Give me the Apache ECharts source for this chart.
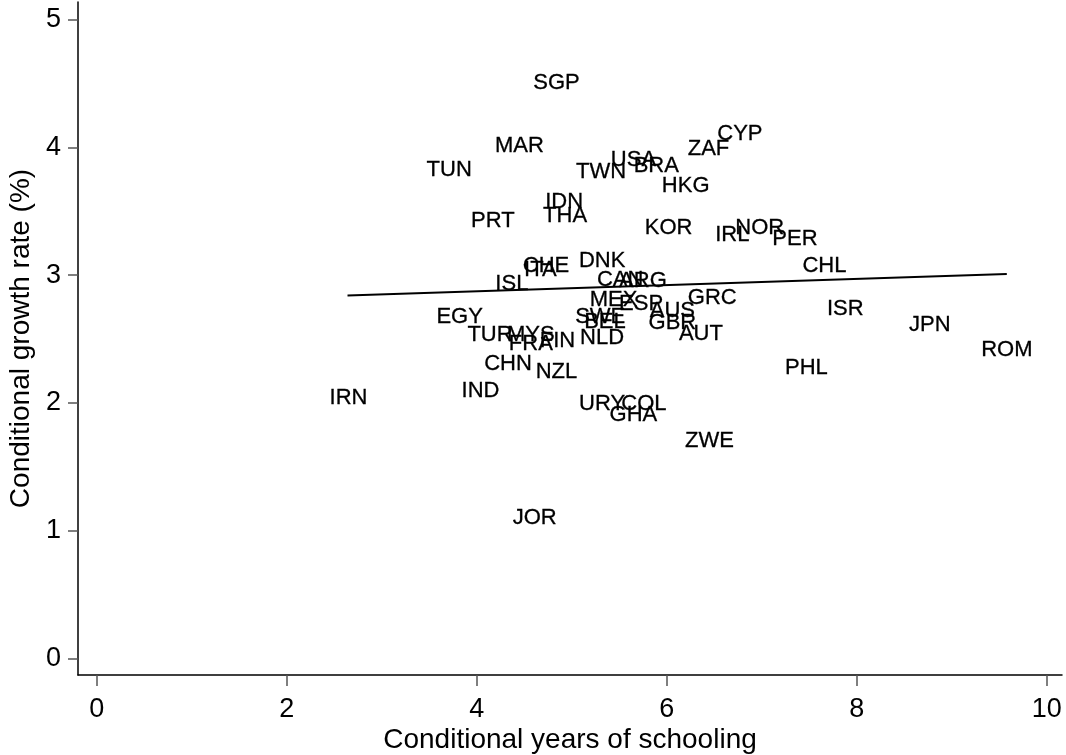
<!DOCTYPE html>
<html>
<head>
<meta charset="utf-8">
<script src="https://cdn.jsdelivr.net/npm/echarts@6/dist/echarts.min.js"></script>
<style>
html,body{margin:0;padding:0;background:#fff;}
#c{width:1066px;height:755px;}
</style>
</head>
<body>
<div id="c"></div>
<script>
const countries = ['SGP','MAR','TUN','TWN','USA','BRA','ZAF','CYP','HKG','IDN','THA','PRT','KOR','IRL','NOR','PER','CHE','ITA','DNK','ISL','CAN','ARG','MEX','ESP','AUS','GRC','EGY','SWE','BEL','GBR','AUT','TUR','MYS','FRA','FIN','NLD','CHN','NZL','IND','URY','COL','GHA','ZWE','CHL','ISR','JPN','ROM','PHL','IRN','JOR'];
const schooling = [4.84,4.45,3.71,5.31,5.65,5.89,6.44,6.77,6.20,4.92,4.93,4.17,6.02,6.69,6.98,7.35,4.73,4.67,5.32,4.37,5.51,5.75,5.44,5.73,6.06,6.48,3.82,5.30,5.35,6.06,6.36,4.14,4.57,4.57,4.85,5.32,4.33,4.84,4.04,5.32,5.76,5.65,6.45,7.66,7.88,8.77,9.58,7.47,2.65,4.61];
const growth = [4.51,4.02,3.83,3.82,3.91,3.86,4.00,4.11,3.71,3.58,3.47,3.43,3.38,3.32,3.38,3.29,3.08,3.05,3.12,2.94,2.97,2.96,2.81,2.78,2.73,2.83,2.68,2.68,2.64,2.63,2.55,2.54,2.54,2.47,2.49,2.52,2.31,2.25,2.10,2.00,2.00,1.91,1.71,3.08,2.74,2.62,2.42,2.28,2.05,1.11];
const fitX = [2.64, 9.58];
const fitY = [2.84, 3.01];
const xTicks = [0, 2, 4, 6, 8, 10];
const yTicks = [0, 1, 2, 3, 4, 5];

const font = 'Liberation Sans, Arial, Helvetica, sans-serif';
const chart = echarts.init(document.getElementById('c'), null, {renderer: 'canvas'});
const pts = countries.map((c, i) => ({name: c, value: [schooling[i], growth[i]]}));
chart.setOption({
  animation: false,
  backgroundColor: '#fff',
  grid: {left: 78, right: 4, top: 2, bottom: 80, containLabel: false, outerBoundsMode: 'none'},
  xAxis: {
    type: 'value', min: -0.197, max: 10.161,
    name: 'Conditional years of schooling', nameLocation: 'middle', nameGap: 51, nameMoveOverlap: false,
    nameTextStyle: {fontSize: 28, color: '#000', fontFamily: font},
    splitLine: {show: false},
    axisLine: {onZero: false, lineStyle: {color: '#000', width: 1.5}},
    axisTick: {customValues: xTicks, length: 11, lineStyle: {color: '#555', width: 1.5}},
    axisLabel: {customValues: xTicks, fontSize: 27, color: '#000', margin: 21, fontFamily: font}
  },
  yAxis: {
    type: 'value', min: -0.131, max: 5.139,
    name: 'Conditional growth rate (%)', nameLocation: 'middle', nameGap: 43, nameMoveOverlap: false,
    nameTextStyle: {fontSize: 28, color: '#000', fontFamily: font},
    splitLine: {show: false},
    axisLine: {onZero: false, lineStyle: {color: '#000', width: 1.5}},
    axisTick: {customValues: yTicks, length: 10, lineStyle: {color: '#555', width: 1.5}},
    axisLabel: {customValues: yTicks, fontSize: 27, color: '#000', margin: 17, fontFamily: font}
  },
  series: [
    {
      type: 'scatter', data: pts, symbolSize: 0,
      itemStyle: {color: '#000', opacity: 1},
      label: {show: true, position: 'inside', formatter: '{b}', fontSize: 22, color: '#000',
              opacity: 1, textBorderWidth: 0.3, textBorderColor: '#000', offset: [0, 1], fontFamily: font},
      emphasis: {disabled: true}
    },
    {
      type: 'line', data: fitX.map((x, i) => [x, fitY[i]]), symbol: 'none',
      lineStyle: {color: '#000', width: 2}, silent: true
    }
  ]
});
</script>
</body>
</html>
